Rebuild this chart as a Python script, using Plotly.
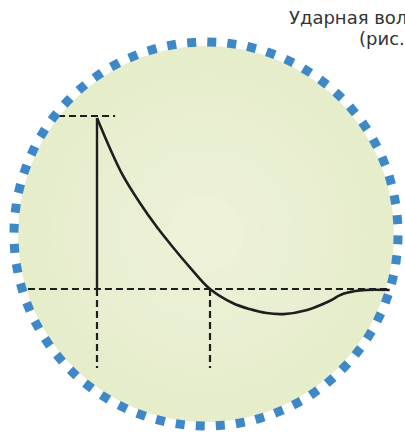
import numpy as np
import plotly.graph_objects as go

# ---- data (time in units of the positive phase, pressure relative to peak) ----
t_curve = [0.0, 0.115, 0.23, 0.38, 0.53, 0.67, 0.82, 1.0,
           1.2, 1.35, 1.5, 1.65, 1.86, 2.04, 2.18, 2.33, 2.59]
p_curve = [0.988, 0.812, 0.655, 0.497, 0.358, 0.243, 0.127, 0.0,
           -0.081, -0.116, -0.139, -0.145, -0.121, -0.075, -0.028, -0.008, -0.006]
t_front = [0.0, 0.0]
p_front = [0.0, 0.988]
t_peak_ref = [-0.345, 0.16]
p_peak_ref = [1.0, 1.0]
t_base = [-0.611, 2.575]
p_base = [0.0, 0.0]
t_marks = [0.0, 1.0]
p_mark_low = -0.457
title_lines = ["Ударная волна", "(рис. 1)"]

W, H = 405, 436
fig = go.Figure()

# dashed reference lines
dash_style = dict(color="#1e1e1e", width=2.2, dash="7px,4px")
fig.add_trace(go.Scatter(x=t_base, y=p_base, mode="lines", line=dash_style, hoverinfo="skip"))
fig.add_trace(go.Scatter(x=t_peak_ref, y=p_peak_ref, mode="lines", line=dash_style, hoverinfo="skip"))
for tm in t_marks:
    fig.add_trace(go.Scatter(x=[tm, tm], y=[0.0, p_mark_low], mode="lines",
                             line=dash_style, hoverinfo="skip"))

# wave
fig.add_trace(go.Scatter(x=t_front, y=p_front, mode="lines",
                         line=dict(color="#1e1e1e", width=2.4), hoverinfo="skip"))
fig.add_trace(go.Scatter(x=t_curve, y=p_curve, mode="lines",
                         line=dict(color="#1e1e1e", width=2.6, shape="spline", smoothing=1.0),
                         hoverinfo="skip"))

# decorative dotted circle (pixel overlay axes)
cx, cy, r_dots = 206, 234, 192
n_dots = 60
ang = np.linspace(0, 2 * np.pi, n_dots, endpoint=False) + 0.03
dx = cx + r_dots * np.cos(ang)
dy = cy + r_dots * np.sin(ang)
rot = np.degrees(ang)
fig.add_trace(go.Scatter(x=dx, y=dy, mode="markers", xaxis="x2", yaxis="y2",
                         marker=dict(symbol="square", size=9, color="#3e88c8",
                                     angle=rot, line=dict(width=0)),
                         hoverinfo="skip"))

# soft fill
shapes = []
n_rings = 10
c_out = np.array([0xe6, 0xed, 0xcb])
c_in = np.array([0xed, 0xf2, 0xd8])
for i in range(n_rings):
    f = i / (n_rings - 1)
    r = 188 * (1 - 0.8 * f)
    col = c_out + (c_in - c_out) * f
    shapes.append(dict(type="circle", xref="paper", yref="paper", layer="below",
                       x0=(cx - r) / W, x1=(cx + r) / W,
                       y0=1 - (cy + r) / H, y1=1 - (cy - r) / H,
                       fillcolor="rgb(%d,%d,%d)" % tuple(col), line=dict(width=0)))

annotations = [
    dict(text=title_lines[0], x=287 / W, y=1 - 17 / H, xref="paper", yref="paper",
         xanchor="left", yanchor="middle", showarrow=False,
         font=dict(family="DejaVu Sans", size=18, color="#333333")),
    dict(text=title_lines[1], x=357 / W, y=1 - 39 / H, xref="paper", yref="paper",
         xanchor="left", yanchor="middle", showarrow=False,
         font=dict(family="DejaVu Sans", size=18, color="#333333")),
]

fig.update_layout(
    width=W, height=H, margin=dict(l=0, r=0, t=0, b=0),
    paper_bgcolor="white", plot_bgcolor="rgba(0,0,0,0)",
    showlegend=False, shapes=shapes, annotations=annotations,
    xaxis=dict(range=[-97 / 113, (W - 97) / 113], visible=False, fixedrange=True),
    yaxis=dict(range=[(289 - H) / 173, 289 / 173], visible=False, fixedrange=True),
    xaxis2=dict(range=[0, W], overlaying="x", visible=False),
    yaxis2=dict(range=[H, 0], overlaying="y", visible=False),
)

fig.write_html("out.html", config={"displayModeBar": False},
               post_script="document.body.style.margin='0';document.body.style.overflow='hidden';")
